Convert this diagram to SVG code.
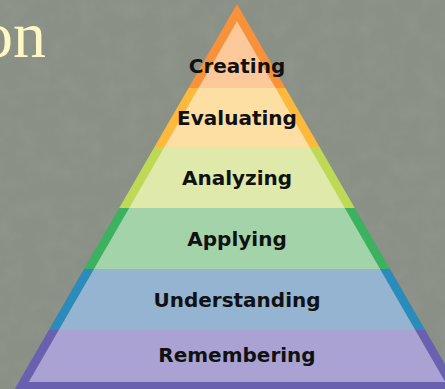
<svg xmlns="http://www.w3.org/2000/svg" width="445" height="389" viewBox="0 0 445 389">
  <defs>
    <filter id="tex" x="0" y="0" width="100%" height="100%">
      <feTurbulence type="fractalNoise" baseFrequency="0.05" numOctaves="3" seed="4" result="n"/>
      <feColorMatrix in="n" type="matrix" values="0 0 0 0 0.35  0 0 0 0 0.37  0 0 0 0 0.33  0 0 0 -1.6 1.0"/>
    </filter>
    <style>
      .lbl { font-family: "DejaVu Sans", Verdana, sans-serif; font-weight: bold; font-size: 20px; fill: #111; text-anchor: middle; }
      .title { font-family: "Liberation Serif", "DejaVu Serif", serif; font-size: 66px; fill: #FFF8C4; }
    </style>
  </defs>
  <rect x="0" y="0" width="445" height="389" fill="#8A9085"/>
  <rect x="0" y="0" width="445" height="389" filter="url(#tex)" opacity="0.3"/>
  <text class="title" x="46" y="57" text-anchor="end">on</text>

  <g id="creating">
    <polygon points="237,4 285.5,88 188.5,88" fill="#F7923A"/>
    <polygon points="237,21.3 275.5,88 198.5,88" fill="#FDC89A"/>
    <text class="lbl" x="237" y="73">Creating</text>
  </g>
  <g id="evaluating">
    <polygon points="188.5,88 285.5,88 319.56,147 154.44,147" fill="#FDB93B"/>
    <polygon points="198.5,88 275.5,88 309.56,147 164.44,147" fill="#FEDFA3"/>
    <text class="lbl" x="237" y="125">Evaluating</text>
  </g>
  <g id="analyzing">
    <polygon points="154.44,147 319.56,147 354.78,208 119.22,208" fill="#BFD855"/>
    <polygon points="164.44,147 309.56,147 344.78,208 129.22,208" fill="#DFE9AA"/>
    <text class="lbl" x="237" y="185">Analyzing</text>
  </g>
  <g id="applying">
    <polygon points="119.22,208 354.78,208 390,269 84,269" fill="#3CB260"/>
    <polygon points="129.22,208 344.78,208 380,269 94,269" fill="#A3D4A9"/>
    <text class="lbl" x="237" y="246">Applying</text>
  </g>
  <g id="understanding">
    <polygon points="84,269 390,269 425.22,330 48.78,330" fill="#2B8BBA"/>
    <polygon points="94,269 380,269 415.22,330 58.78,330" fill="#94B4D2"/>
    <text class="lbl" x="237" y="307">Understanding</text>
  </g>
  <g id="remembering">
    <polygon points="48.78,330 425.22,330 459.28,389 14.72,389" fill="#6A60B0"/>
    <polygon points="58.78,330 415.22,330 445.24,382 28.76,382" fill="#A9A2D2"/>
    <text class="lbl" x="237" y="362">Remembering</text>
  </g>
</svg>
